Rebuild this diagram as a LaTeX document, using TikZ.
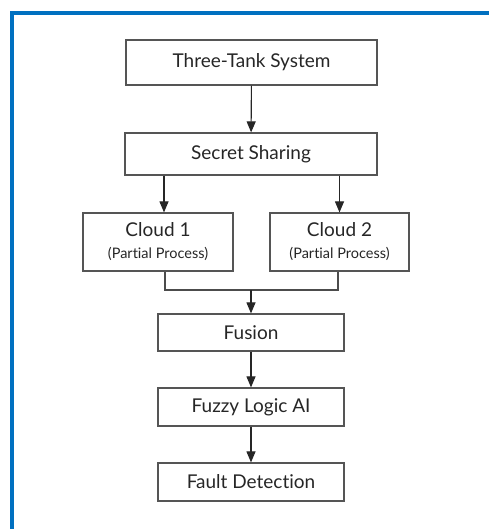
\documentclass[tikz,border=0pt]{standalone}
\usepackage{fontspec}
\setmainfont{Lato}[Ligatures=NoCommon]
\usetikzlibrary{arrows.meta}
\definecolor{frameblue}{HTML}{0070C0}
\definecolor{boxgray}{HTML}{555555}
\tikzset{
  box/.style={draw=boxgray,line width=1.2pt,text=black!85,font=\fontsize{19}{21}\selectfont,inner sep=0pt,align=center},
  arr/.style={draw=black!85,line width=1.1pt,-{Triangle[width=9pt,length=11pt]}},
  wire/.style={draw=black!70,line width=1.1pt}
}
\begin{document}
\begin{tikzpicture}[x=1pt,y=-1pt]
\useasboundingbox (0,0) rectangle (489,529);
\draw[frameblue,line width=4pt] (12,529) -- (12,13) -- (489,13);

\node[box,minimum width=251pt,minimum height=45pt] (sys) at (251.5,62.5) {Three-Tank System};
\node[box,minimum width=252pt,minimum height=42pt] (share) at (251,154) {Secret Sharing};
\node[box,minimum width=150pt,minimum height=58pt] (c1) at (158,242) {Cloud 1\\[1pt]{\fontsize{14.5}{16}\selectfont (Partial Process)}};
\node[box,minimum width=139pt,minimum height=58pt] (c2) at (339.5,242) {Cloud 2\\[1pt]{\fontsize{14.5}{16}\selectfont (Partial Process)}};
\node[box,minimum width=186pt,minimum height=37pt] (fus) at (251,332.5) {Fusion};
\node[box,minimum width=186pt,minimum height=38pt] (fuzzy) at (251,407) {Fuzzy Logic AI};
\node[box,minimum width=186pt,minimum height=38pt] (fault) at (251,482) {Fault Detection};
\coordinate (merge) at (251,290);

\draw[arr] (sys) -- (share);
\draw[arr] ([xshift=6pt]c1.north |- share.south) -- ([xshift=6pt]c1.north);
\draw[arr] (c2.north |- share.south) -- (c2.north);
\draw[wire] ([xshift=7pt]c1.south) |- (merge) -| ([xshift=-1.5pt]c2.south);
\draw[arr] (merge) -- (fus);
\draw[arr] (fus) -- (fuzzy);
\draw[arr] (fuzzy) -- (fault);
\end{tikzpicture}
\end{document}
